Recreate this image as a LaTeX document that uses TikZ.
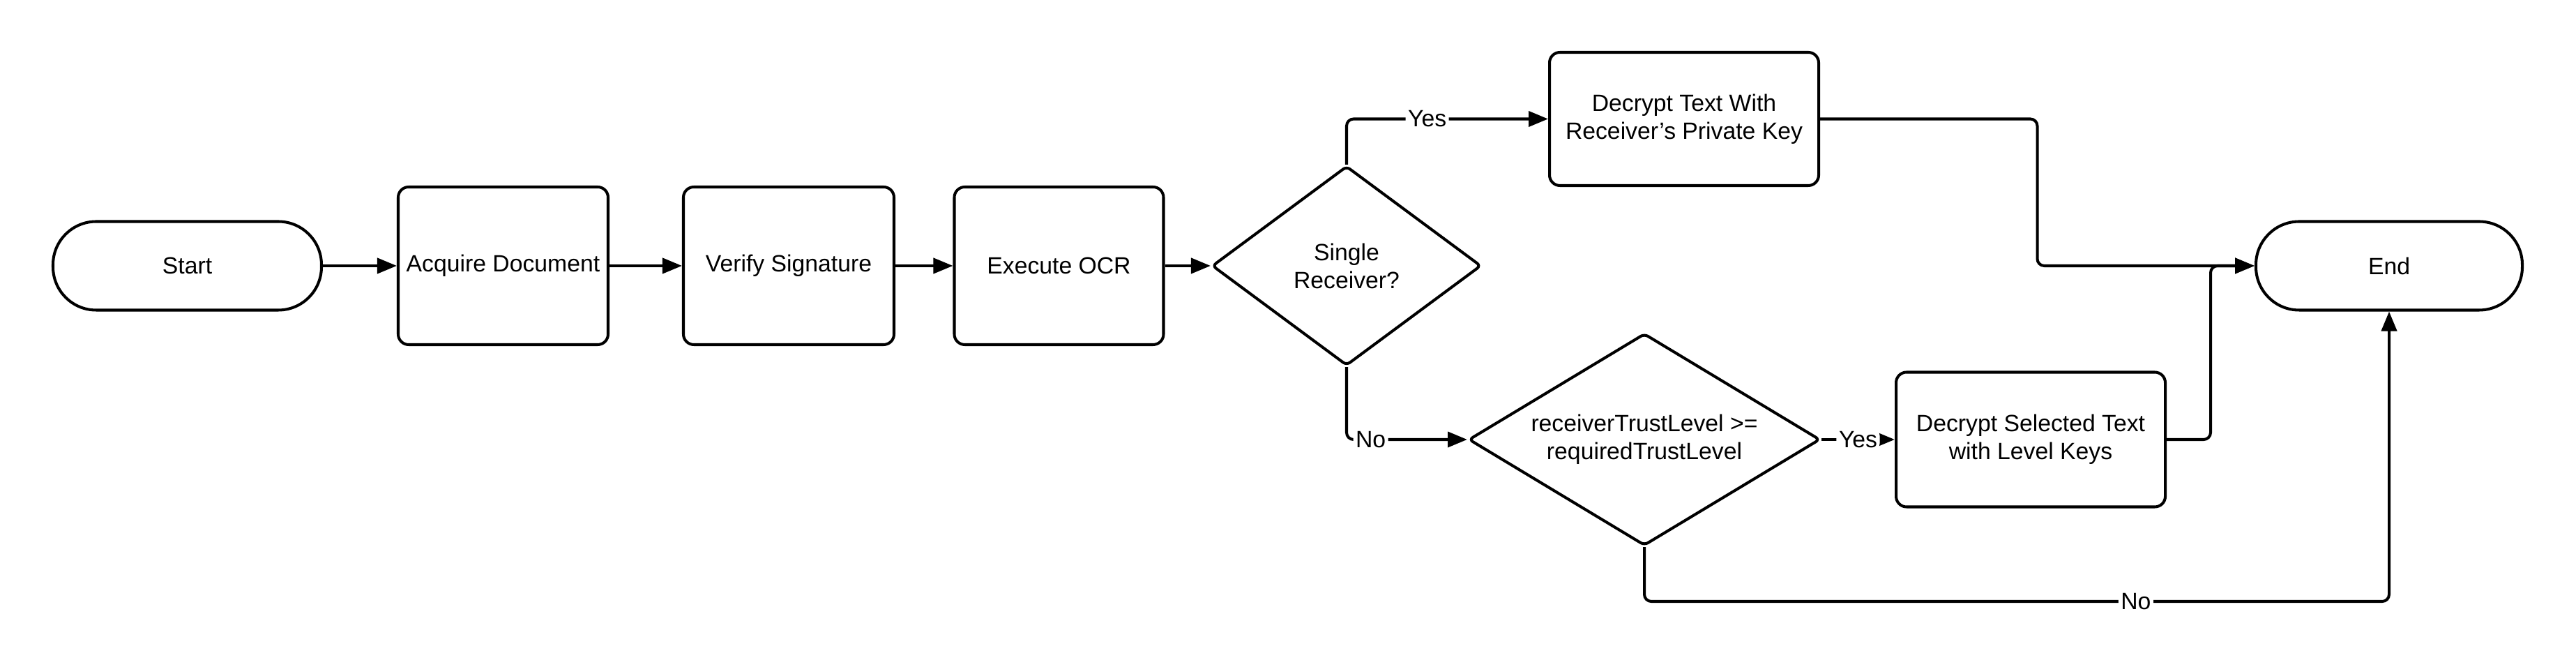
\documentclass[tikz,border=0pt]{standalone}
\usepackage{fontspec}
\setmainfont{Liberation Sans}
\usetikzlibrary{shapes.geometric, arrows.meta, positioning, calc}

\begin{document}
\begin{tikzpicture}[line width=1.15pt,
        every node/.style={font=\fontsize{9.6}{11.4}\selectfont, align=center},
        terminal/.style={draw, rounded corners=0.62cm, minimum width=3.85cm, minimum height=1.27cm},
        process/.style={draw, rounded corners=1.5mm, minimum width=3cm, minimum height=2.26cm},
        decision/.style={draw, diamond, rounded corners=0.6mm, inner sep=0pt},
        flow/.style={-{Triangle[length=2.8mm, width=2.2mm]}, rounded corners=1mm},
        answer/.style={fill=white, inner sep=1pt}]
        \useasboundingbox (0,0) rectangle (36.94,9.56);

        % Main row: start -> ... -> first decision
        \node[terminal] (start) at (2.685,5.75) {Start};
        \node[process] (acquire) at (7.215,5.75) {Acquire Document};
        \node[process, minimum width=3.02cm] (verify) at (11.31,5.75) {Verify Signature};
        \node[process] (ocr) at (15.185,5.75) {Execute OCR};
        \node[decision, aspect=1.35, minimum width=3.86cm, minimum height=2.86cm] (single) at (19.31,5.75) {Single\\Receiver?};

        % Decrypt branches
        \node[process, minimum width=3.86cm, minimum height=1.91cm] (privkey) at (24.15,7.855) {Decrypt Text With\\Receiver's Private Key};
        \node[decision, aspect=1.66, minimum width=5.04cm, minimum height=3.04cm] (trust) at (23.58,3.26) {receiverTrustLevel >=\\requiredTrustLevel};
        \node[process, minimum width=3.86cm, minimum height=1.93cm] (levelkeys) at (29.12,3.26) {Decrypt Selected Text\\with Level Keys};

        % End
        \node[terminal, minimum width=3.82cm] (end) at (34.26,5.75) {End};

        % Connectors along the main row
        \draw[flow] (start) -- (acquire);
        \draw[flow] (acquire) -- (verify);
        \draw[flow] (verify) -- (ocr);
        \draw[flow] (ocr) -- (single);

        % Answers of the decisions
        \draw[flow] (single.north) |- node[answer, pos=0.7] {Yes} (privkey.west);
        \draw[flow] (single.south) |- node[answer, pos=0.6] {No} (trust.west);
        \draw[flow] (trust.east) -- node[answer] {Yes} (levelkeys.west);
        \draw[flow] (trust.south) -- ++(0,-0.78) -| node[answer, pos=0.33] {No} (end.south);

        % Both decrypt boxes join into End
        \coordinate (join1) at ($(privkey.east)!0.5!(end.west)$);
        \coordinate (join2) at ($(levelkeys.east)!0.5!(end.west)$);
        \draw[flow] (privkey.east) -| (join1 |- end.west) -- (end.west);
        \draw[flow] (levelkeys.east) -| (join2 |- end.west) -- (end.west);
    \end{tikzpicture}
\end{document}
